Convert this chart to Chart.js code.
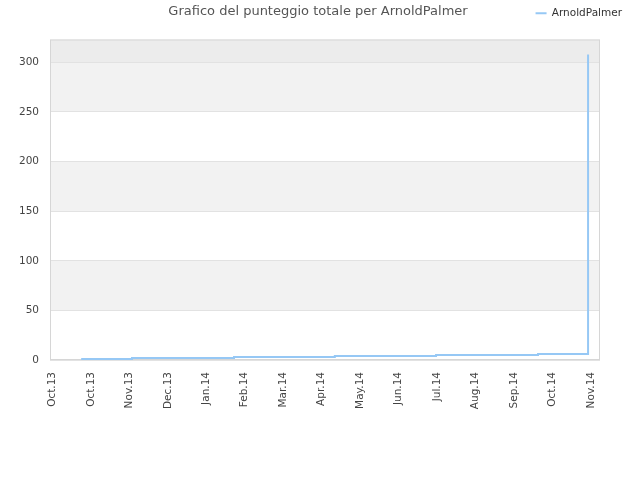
<!DOCTYPE html>
<html>
<head>
<meta charset="utf-8">
<script src="https://cdn.jsdelivr.net/npm/chart.js@4/dist/chart.umd.min.js"></script>
<style>
  html, body { margin: 0; padding: 0; background: #fff; }
  #wrap { width: 640px; height: 480px; }
</style>
</head>
<body>
<div id="wrap"><canvas id="punteggio"></canvas></div>
<script>
// data
const tickLabels = ['Oct.13', 'Oct.13', 'Nov.13', 'Dec.13', 'Jan.14', 'Feb.14', 'Mar.14', 'Apr.14',
    'May.14', 'Jun.14', 'Jul.14', 'Aug.14', 'Sep.14', 'Oct.14', 'Nov.14'];
const yTicks = [0, 50, 100, 150, 200, 250, 300];
const pointPos = [0.75, 2.07, 4.72, 7.34, 9.97, 12.62, 13.92];
const scores = [1, 2, 3, 4, 5, 6, 308];
const titleText = 'Grafico del punteggio totale per ArnoldPalmer';
const seriesName = 'ArnoldPalmer';

const FONT = "'DejaVu Sans', sans-serif";

// grey bands + frame around the plot, title text
const decorPlugin = {
    id: 'decor',
    beforeDraw(chart) {
        const { ctx, chartArea: a, scales: { y } } = chart;
        ctx.save();
        for (let i = 0; i < yTicks.length; i++) {
            const from = yTicks[i];
            const to = i + 1 < yTicks.length ? yTicks[i + 1] : y.max;
            let color = null;
            if (i === yTicks.length - 1) color = '#ececec';
            else if (i % 2 === 1) color = '#f2f2f2';
            if (!color) continue;
            const top = y.getPixelForValue(to);
            const bot = y.getPixelForValue(from);
            ctx.fillStyle = color;
            ctx.fillRect(a.left, top, a.right - a.left, bot - top);
        }
        ctx.restore();
    },
    beforeDatasetsDraw(chart) {
        const { ctx, chartArea: a } = chart;
        ctx.save();
        ctx.strokeStyle = '#d6d6d6';
        ctx.lineWidth = 1;
        ctx.strokeRect(a.left + 0.5, a.top + 0.5, a.right - a.left - 1, a.bottom - a.top - 1);
        ctx.restore();
    },
    afterDraw(chart) {
        const ctx = chart.ctx;
        ctx.save();
        ctx.font = '13px ' + FONT;
        ctx.fillStyle = '#555';
        ctx.textAlign = 'center';
        ctx.textBaseline = 'middle';
        ctx.fillText(titleText, 318, 12);
        ctx.restore();
    }
};

const data = {
    datasets: [{
        label: seriesName,
        data: pointPos.map((x, i) => ({ x: x, y: scores[i] })),
        borderColor: 'rgb(150,200,245)',
        backgroundColor: 'rgb(150,200,245)',
        borderWidth: 2,
        stepped: true,
        fill: false,
        pointRadius: 0,
    }]
};

const config = {
    type: 'line',
    data: data,
    options: {
        responsive: true,
        maintainAspectRatio: false,
        animation: false,
        layout: {
            padding: { top: 0, right: 10, left: 0, bottom: 0 }
        },
        scales: {
            x: {
                type: 'linear',
                min: -0.06,
                max: 14.23,
                afterBuildTicks: (s) => { s.ticks = tickLabels.map((_, i) => ({ value: i })); },
                afterFit: (s) => { s.height = 120; },
                grid: { display: false, drawTicks: false },
                border: { display: false },
                ticks: {
                    autoSkip: false,
                    minRotation: 90,
                    maxRotation: 90,
                    padding: 12,
                    color: '#444',
                    font: { family: FONT, size: 10.5 },
                    callback: (v) => tickLabels[v]
                }
            },
            xTop: {
                type: 'linear',
                position: 'top',
                display: true,
                afterFit: (s) => { s.height = 11; },
                grid: { display: false, drawTicks: false },
                border: { display: false },
                ticks: { display: false }
            },
            y: {
                min: 0,
                max: 323,
                afterBuildTicks: (s) => { s.ticks = yTicks.map((v) => ({ value: v })); },
                afterFit: (s) => { s.width = 50; },
                grid: { color: '#e2e2e2', drawTicks: false },
                border: { display: false },
                ticks: {
                    padding: 11,
                    color: '#444',
                    font: { family: FONT, size: 10.5 }
                }
            },
            yRight: {
                position: 'right',
                display: true,
                afterFit: (s) => { s.width = 30; },
                grid: { display: false, drawTicks: false },
                border: { display: false },
                ticks: { display: false }
            }
        },
        plugins: {
            title: { display: false },
            tooltip: { enabled: false },
            legend: {
                display: true,
                position: 'top',
                align: 'end',
                labels: {
                    usePointStyle: true,
                    pointStyle: 'line',
                    pointStyleWidth: 11,
                    boxHeight: 2,
                    color: '#333',
                    font: { family: FONT, size: 10.5 },
                    padding: 8
                }
            }
        }
    },
    plugins: [decorPlugin]
};

let punteggio = new Chart(
    document.getElementById('punteggio'),
    config
);
</script>
</body>
</html>
